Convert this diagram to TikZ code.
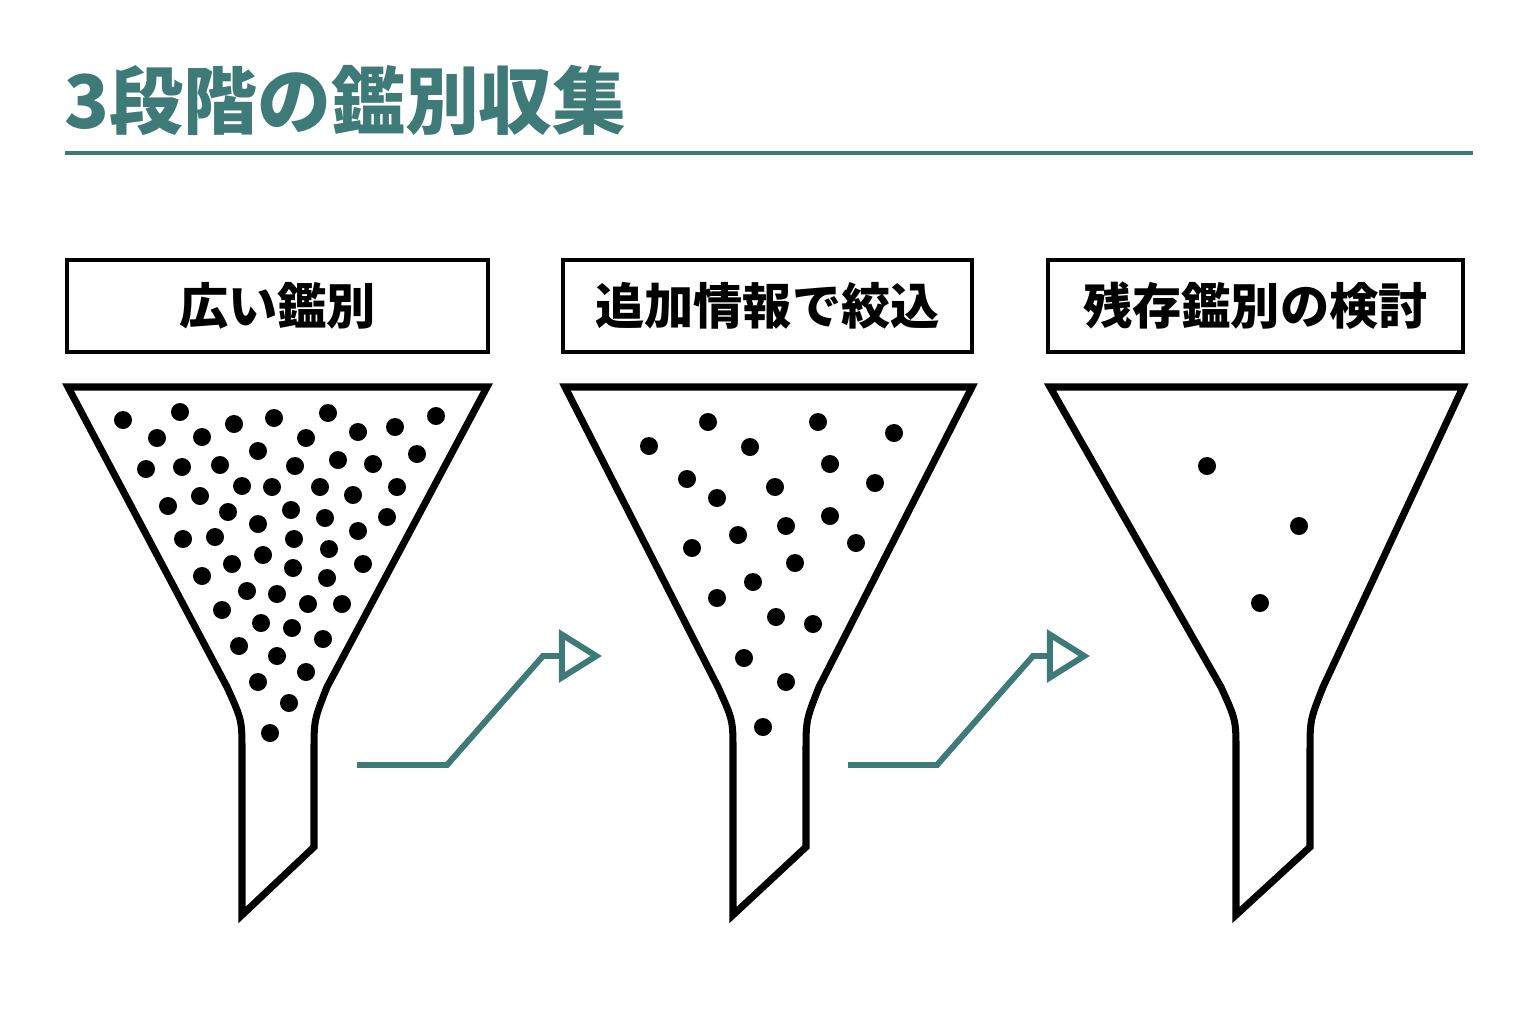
\documentclass[tikz,border=0pt]{standalone}
\usepackage{fontspec}
\setmainfont{Noto Sans CJK JP}
\usetikzlibrary{arrows.meta}
\definecolor{teal1}{HTML}{3E7B78}
\tikzset{
  stage/.style={draw, line width=1.3pt, minimum height=0.92cm, inner sep=0pt, font=\fontsize{14pt}{16pt}\selectfont\bfseries},
  flow/.style={draw=teal1, line width=1.7pt, -{Triangle[open, length=0.43cm, width=0.52cm]}},
  funnelline/.style={line width=2pt, line join=miter},
}
% funnel: top-left x, top-right x, neck-left x, neck-right x (pixels)
\newcommand\funnel[4]{%
  \draw[funnelline] (#1,387) -- ({#3-15},687) .. controls (#3,720) .. (#3,752)
    -- (#3,915) -- (#4,847) -- (#4,752) .. controls (#4,720) .. ({#4+13},687)
    -- (#2,387) -- cycle;}
\begin{document}
\begin{tikzpicture}[x=0.01cm, y=-0.01cm]
  \useasboundingbox (0,0) rectangle (1536,1024);

  % --- title
  \node[anchor=west, text=teal1, font=\fontsize{21pt}{24pt}\selectfont\bfseries, inner sep=0pt] (title) at (64,100) {3段階の鑑別収集};
  \draw[teal1, line width=1.4pt] (65,153) -- (1473,153);

  % --- stage labels
  \node[stage, minimum width=4.21cm] (s1) at (277.5,306) {広い鑑別};
  \node[stage, minimum width=4.09cm] (s2) at (767.5,306) {追加情報で絞込};
  \node[stage, minimum width=4.15cm] (s3) at (1255.5,306) {残存鑑別の検討};

  % --- funnels
  \funnel{68}{487}{242}{314}
  \funnel{565}{972}{733}{806}
  \funnel{1050}{1463}{1236}{1310}

  % --- dots
  \foreach \x/\y in {123/420,180/412,234/424,274/418,328/413,358/432,395/427,436/416,
    157/438,202/437,306/438,258/451,417/454,146/469,182/467,220/465,295/466,338/460,373/464,
    242/486,272/487,320/487,353/495,397/487,168/506,200/496,228/512,291/510,325/518,387/517,
    258/524,183/539,215/537,294/539,358/531,329/549,263/555,232/564,202/576,293/568,327/578,363/564,
    247/591,277/594,308/604,342/604,222/610,261/623,292/628,323/639,239/646,
    277/656,306/672,258/682,289/703,270/733}
    \fill (\x,\y) circle (0.09cm);
  \foreach \x/\y in {649/446,708/422,750/447,818/422,894/433,687/479,717/498,775/487,830/464,875/483,
    692/548,738/535,786/526,830/516,856/543,795/563,753/582,717/598,776/617,813/624,
    744/658,786/682,763/727}
    \fill (\x,\y) circle (0.09cm);
  \foreach \x/\y in {1207/466,1299/526,1260/603}
    \fill (\x,\y) circle (0.09cm);

  % --- arrows
  \coordinate (a1) at (357,765);
  \coordinate (a1e) at (602,656);
  \coordinate (a2) at (848,765);
  \coordinate (a2e) at (1090,656);
  \draw[flow] (a1) -- (447,765) -- (543,656) -- (a1e);
  \draw[flow] (a2) -- (937,765) -- (1033,656) -- (a2e);
\end{tikzpicture}
\end{document}
